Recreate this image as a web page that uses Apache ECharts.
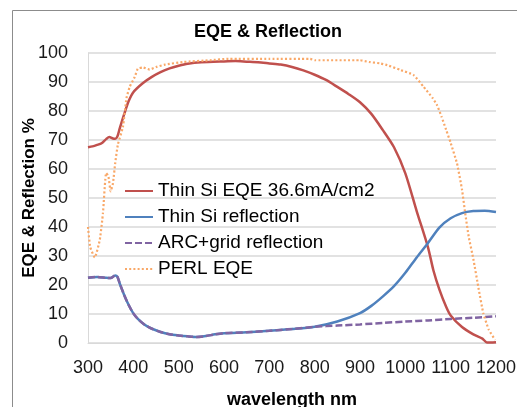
<!DOCTYPE html>
<html>
<head>
<meta charset="utf-8">
<script src="https://cdn.jsdelivr.net/npm/echarts@6/dist/echarts.min.js"></script>
<style>
html,body{margin:0;padding:0;background:#fff;}
#chart{width:517px;height:407px;}
</style>
</head>
<body>
<div id="chart"></div>
<script>
// ---- Data (wavelength nm, percent) ----
var xTicks = [300, 400, 500, 600, 700, 800, 900, 1000, 1100, 1200];
var seriesNames = ['Thin Si EQE 36.6mA/cm2', 'Thin Si reflection', 'ARC+grid reflection', 'PERL EQE'];

var thinSiEqe = [
  [300,67.5],[310,67.8],[320,68.3],[330,68.9],[340,70.3],[347,71],[355,70.5],[360,70.4],
  [365,71.3],[370,74],[380,79],[390,83.5],[400,86.5],[420,89.5],[440,91.7],[460,93.4],
  [480,94.7],[500,95.6],[520,96.3],[550,96.8],[600,97.1],[625,97.2],[650,97],[675,96.8],
  [700,96.4],[725,96],[750,95.2],[775,94],[800,92.5],[825,90.7],[850,88.3],[875,85.8],
  [900,83],[925,79],[950,73.5],[975,67.5],[1000,58.5],[1025,45.5],[1050,33],[1062,25],
  [1075,18.5],[1090,12.5],[1100,9.5],[1125,5.5],[1150,3],[1170,1.5],[1180,0.2],[1200,0.3]
];

var thinSiRefl = [
  [300,22.5],[320,22.8],[340,22.5],[350,22.4],[360,23.3],[365,22.8],[370,20.5],[380,16.5],
  [390,13],[400,10.2],[410,8.3],[425,6.3],[440,5],[460,3.8],[480,3.0],[500,2.6],[520,2.3],
  [540,2.1],[560,2.4],[580,3.0],[600,3.4],[650,3.7],[700,4.2],[750,4.8],[800,5.6],
  [850,7.4],[900,10.3],[925,12.8],[950,16],[975,19.6],[1000,24.2],[1025,29.5],[1050,34.5],
  [1075,39.8],[1100,43],[1125,44.8],[1150,45.5],[1175,45.6],[1200,45.2]
];

var arcGridRefl = [
  [300,22.5],[320,22.8],[340,22.5],[350,22.4],[360,23.3],[365,22.8],[370,20.5],[380,16.5],
  [390,13],[400,10.2],[410,8.3],[425,6.3],[440,5],[460,3.8],[480,3.0],[500,2.6],[520,2.3],
  [540,2.1],[560,2.4],[580,3.0],[600,3.4],[650,3.7],[700,4.2],[750,4.8],[800,5.6],
  [850,6.0],[900,6.4],[950,6.9],[1000,7.4],[1050,7.8],[1100,8.3],[1150,8.7],[1200,9.2]
];

var perlEqe = [
  [300,40],[305,33],[315,29.5],[326,35.6],[333,44.8],[340,58.6],[345,57.5],[350,52.3],
  [355,55],[360,62],[366,68.5],[377,74.5],[385,84.5],[392,88.3],[403,91.7],[410,94.6],
  [421,95],[436,94.3],[451,95.2],[470,96],[510,96.9],[570,97.5],[610,98],[700,98],
  [790,98],[800,97.5],[900,97.5],[920,96.9],[945,96.4],[960,95.8],[990,94.1],[1018,92.4],
  [1040,88.4],[1060,84.5],[1070,82],[1080,78],[1090,73.5],[1100,69],[1114,61.9],
  [1125,52.9],[1132,44.8],[1140,36.5],[1150,29],[1162,18.4],[1172,10.3],[1184,4.6],[1198,1.1]
];

var FONT = '"Liberation Sans", Arial, sans-serif';
var chart = echarts.init(document.getElementById('chart'), null, {renderer: 'canvas'});

chart.setOption({
  animation: false,
  backgroundColor: '#ffffff',
  graphic: [
    {type: 'line', shape: {x1: 12.5, y1: 10.5, x2: 517, y2: 10.5},
      style: {stroke: '#8c8c8c', lineWidth: 1}, silent: true},
    {type: 'line', shape: {x1: 12.5, y1: 10.5, x2: 12.5, y2: 407},
      style: {stroke: '#8c8c8c', lineWidth: 1}, silent: true}
  ],
  title: {
    text: 'EQE & Reflection',
    left: 268, top: 23, textAlign: 'center', padding: 0,
    textStyle: {fontFamily: FONT, fontSize: 18, fontWeight: 'bold', color: '#000'}
  },
  grid: {left: 88, right: 21, top: 53, bottom: 64, containLabel: false, outerBoundsMode: 'none'},
  legend: {
    orient: 'vertical',
    left: 124, top: 181, padding: 0,
    itemWidth: 28, itemHeight: 14, itemGap: 6,
    itemStyle: {opacity: 0},
    textStyle: {fontFamily: FONT, fontSize: 19, color: '#000', lineHeight: 20},
    data: seriesNames
  },
  xAxis: {
    type: 'value', min: 300, max: 1200, interval: 100,
    name: 'wavelength nm', nameLocation: 'middle', nameGap: 48, nameMoveOverlap: false,
    nameTextStyle: {fontFamily: FONT, fontSize: 18, fontWeight: 'bold', color: '#000'},
    axisLine: {show: true, lineStyle: {color: '#d9d9d9', width: 1}},
    axisTick: {show: false},
    splitLine: {show: false},
    axisLabel: {fontFamily: FONT, fontSize: 18, color: '#1a1a1a', margin: 16,
      showMinLabel: true, showMaxLabel: true, hideOverlap: false,
      formatter: function (v) { return String(v); }}
  },
  yAxis: {
    type: 'value', min: 0, max: 100, interval: 10,
    name: 'EQE & Reflection %', nameLocation: 'middle', nameGap: 50, nameRotate: 90, nameMoveOverlap: false,
    nameTextStyle: {fontFamily: FONT, fontSize: 17, fontWeight: 'bold', color: '#000'},
    axisLine: {show: true, lineStyle: {color: '#d9d9d9', width: 1}},
    axisTick: {show: false},
    splitLine: {show: true, lineStyle: {color: '#d9d9d9', width: 1.5}},
    axisLabel: {fontFamily: FONT, fontSize: 18, color: '#1a1a1a', margin: 20}
  },
  series: [
    {name: seriesNames[0], type: 'line', data: thinSiEqe, showSymbol: false, symbol: 'none',
      smooth: 0.25, lineStyle: {color: '#C0504D', width: 2.5}, itemStyle: {color: '#C0504D'}},
    {name: seriesNames[1], type: 'line', data: thinSiRefl, showSymbol: false, symbol: 'none',
      smooth: 0.25, lineStyle: {color: '#4F81BD', width: 2.5}, itemStyle: {color: '#4F81BD'}},
    {name: seriesNames[2], type: 'line', data: arcGridRefl, showSymbol: false, symbol: 'none',
      smooth: 0.25, lineStyle: {color: '#8064A2', width: 2.5, type: [7, 3]}, itemStyle: {color: '#8064A2'}},
    {name: seriesNames[3], type: 'line', data: perlEqe, showSymbol: false, symbol: 'none',
      smooth: 0.15, lineStyle: {color: '#F9A868', width: 2.2, type: [2, 2.2]}, itemStyle: {color: '#F9A868'}}
  ]
});
</script>
</body>
</html>
